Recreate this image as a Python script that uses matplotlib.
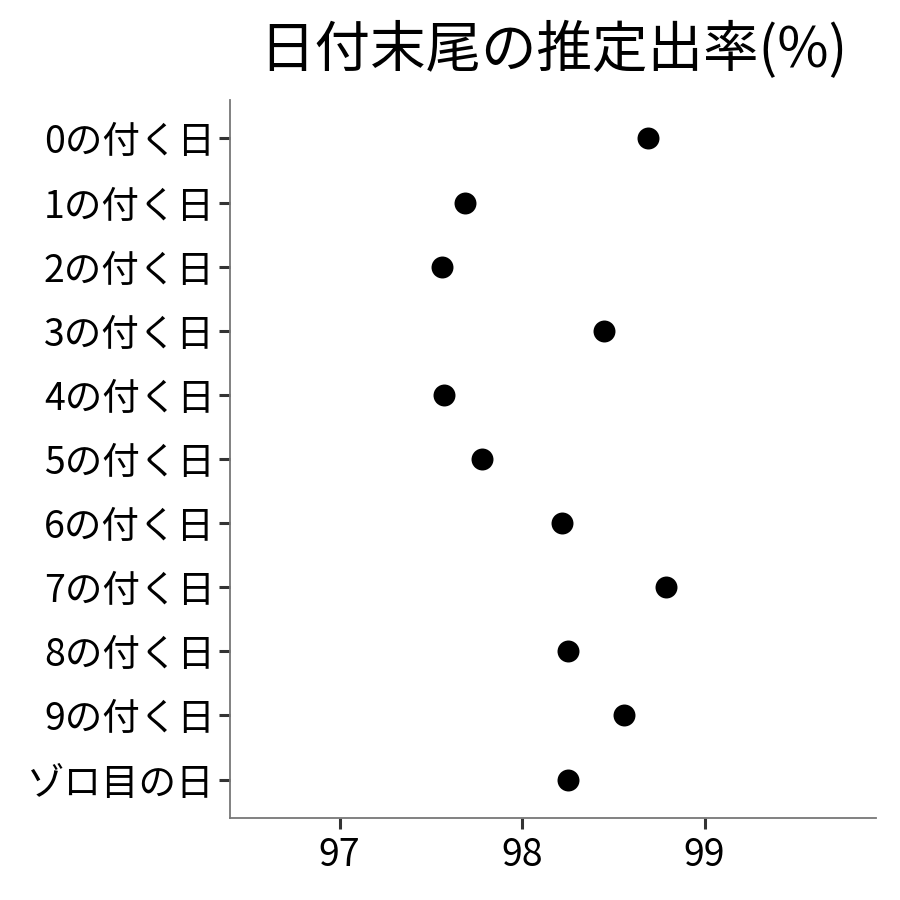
import matplotlib.pyplot as plt
import numpy as np

plt.rcParams['font.family'] = ['Noto Sans CJK JP', 'DejaVu Sans']

# データ
categories = ['0の付く日', '1の付く日', '2の付く日', '3の付く日', '4の付く日',
              '5の付く日', '6の付く日', '7の付く日', '8の付く日', '9の付く日',
              'ゾロ目の日']
rates = [98.69, 97.69, 97.56, 98.45, 97.57, 97.78, 98.22, 98.79, 98.25, 98.56, 98.25]
xticks = [97, 98, 99]

fig = plt.figure(figsize=(9, 9), dpi=100)
ax = fig.add_axes([0.2556, 0.0911, 0.7178, 0.7978])

y = np.arange(len(categories))[::-1]
ax.scatter(rates, y, s=250, color='black', zorder=3, linewidths=0)

ax.set_yticks(y)
ax.set_yticklabels(categories)
ax.set_ylim(-0.6, len(categories) - 0.4)
ax.set_xticks(xticks)
ax.set_xlim(96.40, 99.94)

for s in ['top', 'right']:
    ax.spines[s].set_visible(False)
for s in ['left', 'bottom']:
    ax.spines[s].set_color('#777777')
    ax.spines[s].set_linewidth(1.3)

ax.tick_params(axis='both', length=8, width=2.2, color='#333333',
               labelsize=27, labelcolor='black', pad=3)
ax.tick_params(axis='x', pad=5)

ax.set_title('日付末尾の推定出率(%)', fontsize=40, pad=24)

fig.savefig('out.png', dpi=100)
